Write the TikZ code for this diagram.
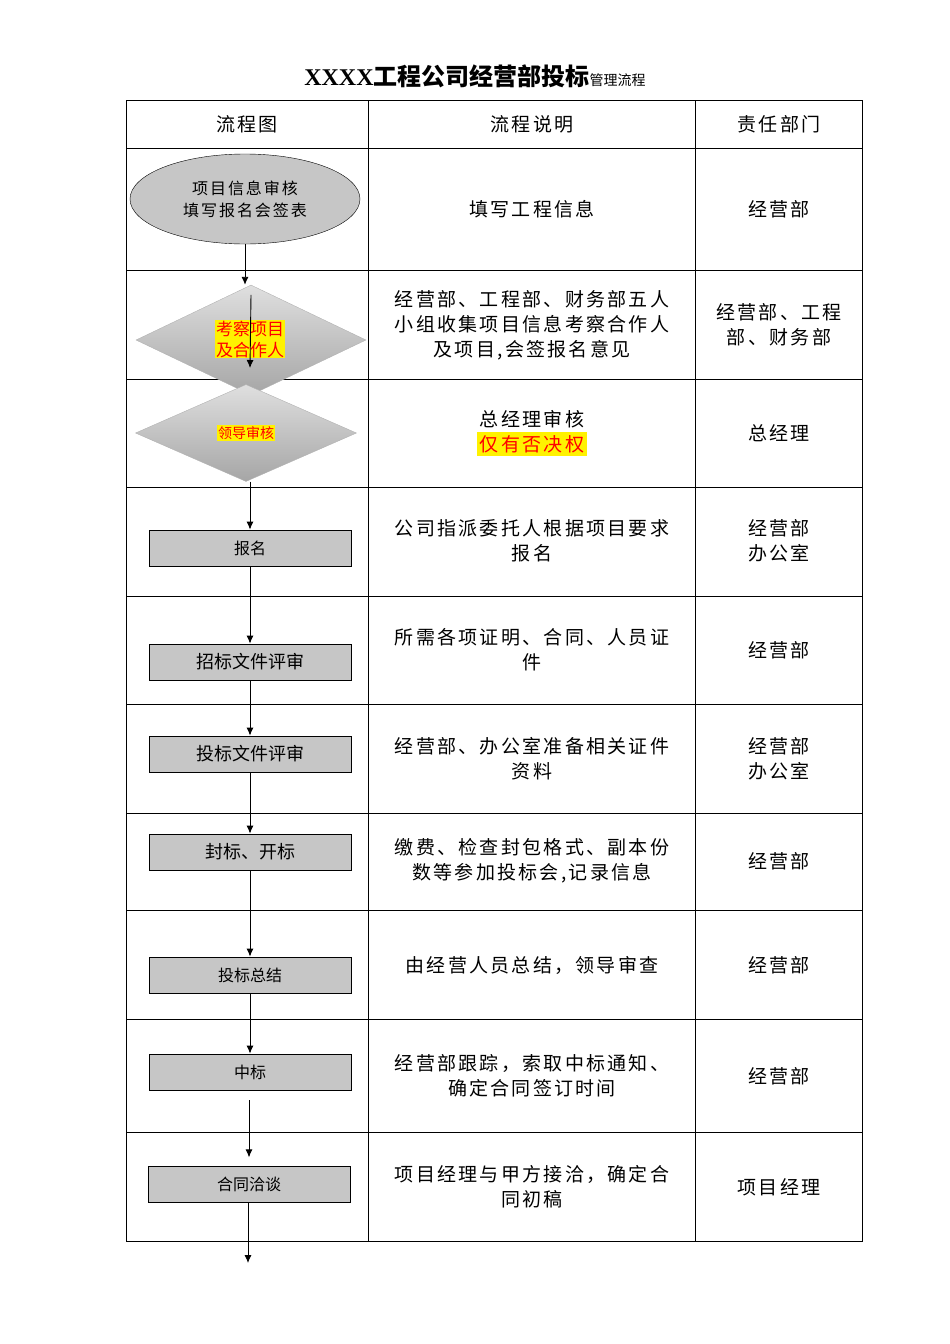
\documentclass[tikz,border=0pt]{standalone}
\usepackage{fontspec}
\setmainfont{Liberation Serif}
\newfontfamily\cjk{Noto Sans CJK SC}
\newfontfamily\cjkw[LetterSpace=12]{Noto Sans CJK SC}
\usetikzlibrary{shapes.geometric,arrows.meta}
\begin{document}
\begin{tikzpicture}[x=1pt,y=-1pt,
  every node/.style={font=\cjkw\fontsize{19}{25}\selectfont,align=center},
  box/.style={draw,thick,fill=gray!45,minimum width=202pt,minimum height=36pt,font=\cjk\fontsize{16}{18}\selectfont,inner sep=0pt},
  dia/.style={diamond,draw=gray!60,top color=gray!25,bottom color=gray!70,inner sep=0pt,aspect=2},
  arr/.style={-{Latex[length=8pt,width=7pt]},line width=0.9pt},
  hl/.style={fill=yellow,text=red,inner sep=1pt}]
\useasboundingbox (0,0) rectangle (950,1344);
\node (title) at (475,76) {{\fontsize{24}{28}\selectfont\rmfamily\bfseries XXXX\cjk 工程公司经营部投标}{\cjk\fontsize{14}{16}\selectfont 管理流程}};
% table
\draw (126,100) rectangle (862,1241);
\draw (368,100) -- (368,1241) (695,100) -- (695,1241);
\foreach \y in {148,270,379,487,596,704,813,910,1019,1132}
  \draw (126,\y) -- (862,\y);
\node at (247,124) {流程图};
\node at (532,124) {流程说明};
\node at (779,124) {责任部门};
% shapes
\node[ellipse,draw,fill=gray!45,minimum width=230pt,minimum height=90pt,font=\cjkw\fontsize{16}{22}\selectfont] (e) at (245,199) {项目信息审核\\填写报名会签表};
\node[dia,minimum width=230pt,minimum height=110pt] (d1) at (251,340) {};
\node[hl,font=\cjk\fontsize{17}{21}\selectfont] (d1t) at (250,339) {考察项目\\及合作人};
\node[dia,minimum width=221pt,minimum height=97pt] (d2) at (246,433) {};
\node[hl,font=\cjk\fontsize{14}{16}\selectfont] (d2t) at (246,433) {领导审核};
\node[box] (b1) at (250,548) {报名};
\node[box,font=\cjk\fontsize{18}{20}\selectfont] (b2) at (250,662) {招标文件评审};
\node[box,font=\cjk\fontsize{18}{20}\selectfont] (b3) at (250,754) {投标文件评审};
\node[box,font=\cjk\fontsize{18}{20}\selectfont] (b4) at (250,852) {封标、开标};
\node[box] (b5) at (250,975) {投标总结};
\node[box] (b6) at (250,1072) {中标};
\node[box] (b7) at (249,1184) {合同洽谈};
\coordinate (end) at (248,1263);
\coordinate (m1) at (250,368);
% arrows
\draw[arr] (e.south) -- (e.south |- d1.north);
\draw[arr] (d1.north) ++(0,10) -- (m1);
\draw[arr] (d2.south) ++(4,0) -- (b1.north);
\draw[arr] (b1.south) -- (b2.north);
\draw[arr] (b2.south) -- (b3.north);
\draw[arr] (b3.south) -- (b4.north);
\draw[arr] (b4.south) -- (b5.north);
\draw[arr] (b5.south) -- (b6.north);
\draw[arr] (b6.south) ++(-1,10) -- ++(0,57);
\draw[arr] (b7.south) ++(-1,0) -- (end);
% descriptions
\node at (532,209) {填写工程信息};
\node at (532,325) {经营部、工程部、财务部五人\\小组收集项目信息考察合作人\\及项目,会签报名意见};
\node at (532,433) {总经理审核\\\colorbox{yellow}{\textcolor{red}{仅有否决权}}};
\node at (532,541) {公司指派委托人根据项目要求\\报名};
\node at (532,650) {所需各项证明、合同、人员证\\件};
\node at (532,759) {经营部、办公室准备相关证件\\资料};
\node at (532,861) {缴费、检查封包格式、副本份\\数等参加投标会,记录信息};
\node at (532,965) {由经营人员总结，领导审查};
\node at (532,1076) {经营部跟踪，索取中标通知、\\确定合同签订时间};
\node at (532,1187) {项目经理与甲方接洽，确定合\\同初稿};
% departments
\node at (779,209) {经营部};
\node at (779,325) {经营部、工程\\部、财务部};
\node at (779,433) {总经理};
\node at (779,541) {经营部\\办公室};
\node at (779,650) {经营部};
\node at (779,759) {经营部\\办公室};
\node at (779,861) {经营部};
\node at (779,965) {经营部};
\node at (779,1076) {经营部};
\node at (779,1187) {项目经理};
\end{tikzpicture}
\end{document}
